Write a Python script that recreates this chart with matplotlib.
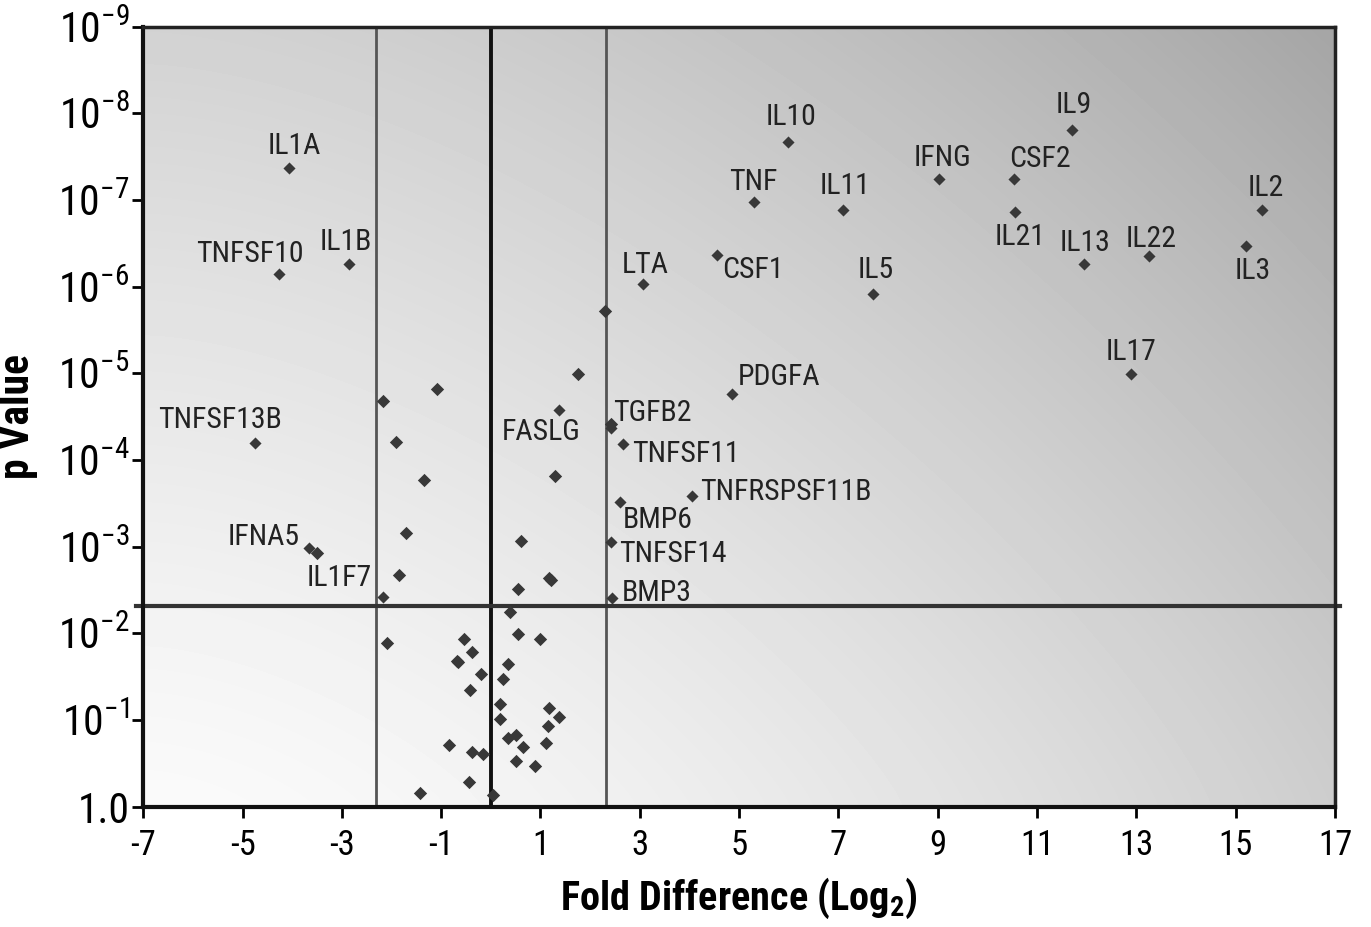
import numpy as np
import matplotlib
matplotlib.use("Agg")
import matplotlib.pyplot as plt
from matplotlib import font_manager

# pick a narrow sans if one is installed
installed = {f.name for f in font_manager.fontManager.ttflist}
candidates = ['Liberation Sans Narrow', 'Roboto Condensed', 'DejaVu Sans Condensed',
              'Open Sans Condensed', 'Noto Sans Condensed', 'Roboto', 'Liberation Sans']
narrow = next((c for c in candidates if c in installed), 'DejaVu Sans')
stretch = 'condensed' if narrow in ('Roboto', 'Noto Sans', 'Open Sans') else 'normal'

plt.rcParams['font.family'] = [narrow, 'DejaVu Sans']
plt.rcParams['font.stretch'] = stretch
plt.rcParams['mathtext.fontset'] = 'custom'
plt.rcParams['mathtext.rm'] = narrow
plt.rcParams['mathtext.bf'] = narrow + ':bold'

# labelled genes: log2 fold difference and -log10(p)
genes = ['IL1A', 'TNFSF10', 'IL1B', 'TNFSF13B', 'IFNA5', 'IL1F7',
         'LTA', 'CSF1', 'TNF', 'IL10', 'IL11', 'IL5', 'IFNG', 'CSF2',
         'IL21', 'IL9', 'IL13', 'IL22', 'IL17', 'IL2', 'IL3', 'PDGFA',
         'TGFB2', 'TNFSF11', 'TNFRSPSF11B', 'BMP6', 'TNFSF14', 'BMP3', 'FASLG']
gene_fold = [-4.07, -4.27, -2.86, -4.75, -3.66, -2.17,
             3.07, 4.55, 5.31, 5.98, 7.10, 7.70, 9.03, 10.54,
             10.56, 11.70, 11.95, 13.26, 12.89, 15.54, 15.21, 4.86,
             2.43, 2.67, 4.05, 2.60, 2.41, 2.44, 1.37]
gene_nlp = [7.37, 6.15, 6.26, 4.20, 2.98, 2.42,
            6.03, 6.37, 6.98, 7.67, 6.88, 5.92, 7.24, 7.24,
            6.86, 7.81, 6.26, 6.35, 4.99, 6.88, 6.47, 4.76,
            4.37, 4.18, 3.58, 3.51, 3.05, 2.41, 4.58]

# unlabelled genes
other_fold = [-3.50, 2.42, 2.30, 1.76, 1.29, 0.61, 1.18, 1.21, 0.55,
              -1.09, -2.18, -1.91, -1.35, -1.71, -1.84,
              0.39, -2.10, 0.54, 0.99, -0.55, -0.37, -0.69, -0.66, 0.35,
              -0.20, 0.25, -0.42, 0.18, 1.18, 1.38, 0.18, 1.16, 0.34, 0.51,
              0.65, 1.11, -0.84, -0.37, -0.16, 0.50, 0.88, -0.43, -1.43, 0.04]
other_nlp = [2.93, 4.41, 5.72, 4.99, 3.82, 3.07, 2.64, 2.62, 2.51,
             4.82, 4.68, 4.21, 3.77, 3.16, 2.67,
             2.25, 1.89, 1.99, 1.94, 1.93, 1.78, 1.68, 1.67, 1.65,
             1.53, 1.47, 1.35, 1.18, 1.14, 1.03, 1.01, 0.93, 0.79, 0.83,
             0.69, 0.73, 0.71, 0.63, 0.61, 0.53, 0.47, 0.28, 0.16, 0.13]

fold_cut = 2.32
p_cut = 2.31

xticks = list(range(-7, 18, 2))
yticks = list(range(0, 10))
ytick_labels = ['1.0'] + [r'$\mathregular{10^{-%d}}$' % k for k in range(1, 10)]

# label offsets in pixels: (dx, dy, ha)
label_pos = {
    'IL1A': (6, 22, 'center'), 'TNFSF10': (-29, 20, 'center'),
    'IL1B': (-3, 22, 'center'), 'TNFSF13B': (-35, 23, 'center'),
    'IFNA5': (-9, 11, 'right'), 'IL1F7': (-11, 19, 'right'),
    'LTA': (2, 19, 'center'), 'CSF1': (5, -15, 'left'),
    'TNF': (-1, 20, 'center'), 'IL10': (3, 25, 'center'),
    'IL11': (2, 24, 'center'), 'IL5': (3, 24, 'center'),
    'IFNG': (3, 21, 'center'), 'CSF2': (-5, 20, 'left'),
    'IL21': (5, -25, 'center'), 'IL9': (2, 25, 'center'),
    'IL13': (1, 21, 'center'), 'IL22': (2, 17, 'center'),
    'IL17': (0, 22, 'center'), 'IL2': (3, 22, 'center'),
    'IL3': (7, -25, 'center'), 'PDGFA': (6, 17, 'left'),
    'TGFB2': (2, 15, 'left'), 'TNFSF11': (9, -10, 'left'),
    'TNFRSPSF11B': (8, 4, 'left'), 'BMP6': (3, -18, 'left'),
    'TNFSF14': (9, -12, 'left'), 'BMP3': (10, 5, 'left'),
    'FASLG': (-18, -22, 'center'),
}

fig = plt.figure(figsize=(13.71, 9.27), dpi=100)
ax = fig.add_axes([0.1045, 0.1298, 0.8692, 0.8414])
ax.set_xlim(-7, 17)
ax.set_ylim(0, 9)

# grey shading: near white at lower left, darker toward upper right
u, w = np.meshgrid(np.linspace(0, 1, 300), np.linspace(0, 1, 200))
shade = 250 - 40 * w ** 1.2 - 45 * u ** 1.6
ax.imshow(shade, cmap='gray', vmin=0, vmax=255, origin='lower',
          extent=(-7, 17, 0, 9), aspect='auto', zorder=0, interpolation='bilinear')

ax.axvline(-fold_cut, color='#555555', lw=2, zorder=1)
ax.axvline(fold_cut, color='#555555', lw=2, zorder=1)
ax.axvline(0, color='#111111', lw=2.8, zorder=1)
ax.axhline(p_cut, color='#333333', lw=3, zorder=1, clip_on=False, xmin=-0.006, xmax=1.004)

ax.scatter(other_fold, other_nlp, marker='D', s=46, color='#383838', lw=0, zorder=3)
ax.scatter(gene_fold, gene_nlp, marker='D', s=38, color='#383838', lw=0, zorder=3)

for g, fx, fy in zip(genes, gene_fold, gene_nlp):
    dx, dy, ha = label_pos[g]
    ax.annotate(g, (fx, fy), xytext=(dx, dy), textcoords='offset pixels',
                ha=ha, va='center', fontsize=21.5, color='#222222', zorder=4)

ax.set_xticks(xticks)
ax.set_xticklabels([str(t) for t in xticks])
ax.set_yticks(yticks)
ax.set_yticklabels(ytick_labels)
ax.tick_params(axis='x', labelsize=25, length=8, width=2, direction='out', pad=8)
ax.tick_params(axis='y', labelsize=30, length=8, width=2, direction='out', pad=2)

for side in ['left', 'bottom']:
    ax.spines[side].set_linewidth(3)
    ax.spines[side].set_color('#111111')
for side in ['top', 'right']:
    ax.spines[side].set_linewidth(2.5)
    ax.spines[side].set_color('#222222')

ax.set_xlabel(r'Fold Difference (Log$\mathregular{_2}$)', fontsize=29, fontweight='bold', labelpad=10)
ax.set_ylabel('p Value', fontsize=30, fontweight='bold', labelpad=14)

fig.savefig('out.png', dpi=100, facecolor='white')
